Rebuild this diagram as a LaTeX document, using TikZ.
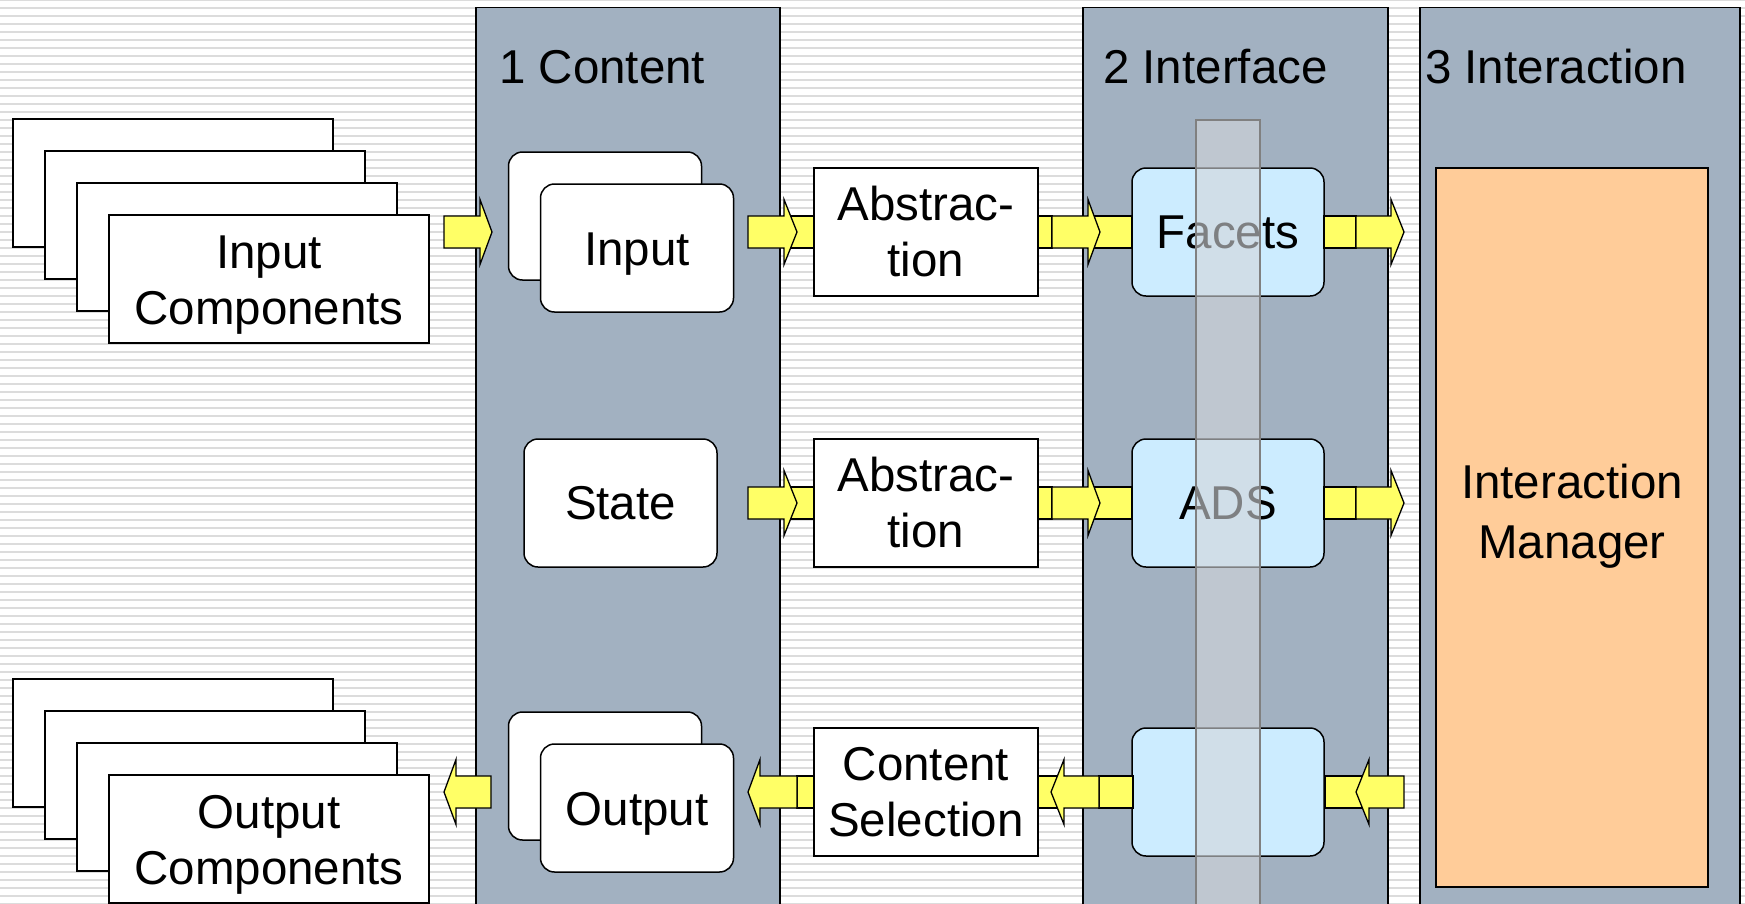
\documentclass[tikz,border=0pt]{standalone}
\usepackage{fontspec}
\setmainfont{Liberation Sans}
\definecolor{colfill}{HTML}{A2B1C1}
\definecolor{imfill}{HTML}{FFCC99}
\definecolor{bluefill}{HTML}{CCECFF}
\definecolor{yel}{HTML}{FFFF66}
\definecolor{stripecol}{HTML}{DCDCDC}
\definecolor{barfill}{HTML}{D3D6DA}
\definecolor{bardraw}{HTML}{808080}
\newcommand{\blockarr}[4]{% tail x, head-base x, tip x, centre y
  \draw[arr] (#1,#4-16) -- (#2,#4-16) -- (#2,#4-32.5) -- (#3,#4) -- (#2,#4+32.5) -- (#2,#4+16) -- (#1,#4+16) -- cycle;}
\newcommand{\yelrect}[3]{% x1, x2, centre y
  \draw[arr] (#1,#3-16) rectangle (#2,#3+16);}
\begin{document}
\begin{tikzpicture}[x=1pt,y=-1pt,
  lbl/.style={font=\fontsize{47.5}{56}\selectfont},
  box/.style={draw, fill=white, line width=1.5pt, align=center, inner sep=0pt, lbl},
  rbox/.style={box, rounded corners=14pt},
  txt/.style={lbl, align=center, inner sep=0pt},
  column/.style={draw, fill=colfill, line width=1.5pt},
  arr/.style={draw, fill=yel, line width=1.3pt, line join=miter},
  bar/.style={fill=barfill, fill opacity=0.6, draw=bardraw, line width=2pt}]
\useasboundingbox (0,0) rectangle (1745,903);
\clip (0,0) rectangle (1745,903);
% striped background
\fill[white] (0,0) rectangle (1745,903);
\foreach \k in {0,...,113} {\fill[stripecol] (0,{\k*8-0.7}) rectangle (1745,{\k*8+0.7});}
% columns
\draw[column] (476,7.5) rectangle (780,920);
\draw[column] (1083,7.5) rectangle (1388,920);
\draw[column] (1420,7.5) rectangle (1740,920);
\node[lbl, anchor=base west, inner sep=0pt] (t1) at (499,83) {1 Content};
\node[lbl, anchor=base west, inner sep=0pt] (t2) at (1103,83) {2 Interface};
\node[lbl, anchor=base west, inner sep=0pt] (t3) at (1425,83) {3 Interaction};
% input components stack
\node[box, minimum width=320pt, minimum height=128pt] (ic1) at (173,183) {};
\node[box, minimum width=320pt, minimum height=128pt] (ic2) at (205,215) {};
\node[box, minimum width=320pt, minimum height=128pt] (ic3) at (237,247) {};
\node[box, minimum width=320pt, minimum height=128pt] (ic4) at (269,279) {};
\node[txt] (ic4t) at ([yshift=-6pt]ic4.center) {Input\\Components};
% output components stack
\node[box, minimum width=320pt, minimum height=128pt] (oc1) at (173,743) {};
\node[box, minimum width=320pt, minimum height=128pt] (oc2) at (205,775) {};
\node[box, minimum width=320pt, minimum height=128pt] (oc3) at (237,807) {};
\node[box, minimum width=320pt, minimum height=128pt] (oc4) at (269,839) {};
\node[txt] (oc4t) at ([yshift=-6pt]oc4.center) {Output\\Components};
% content column
\node[rbox, minimum width=193pt, minimum height=128pt] (in1) at (605,216) {};
\node[rbox, minimum width=193pt, minimum height=128pt] (in2) at (637,248) {};
\node[txt] (in2t) at ([yshift=-6pt]in2.center) {Input};
\node[rbox, minimum width=193pt, minimum height=128pt] (state) at (620.5,503) {State};
\node[rbox, minimum width=193pt, minimum height=128pt] (out1) at (605,776) {};
\node[rbox, minimum width=193pt, minimum height=128pt] (out2) at (637,808) {};
\node[txt] (out2t) at ([yshift=-6pt]out2.center) {Output};
% middle boxes
\node[box, minimum width=224pt, minimum height=128pt] (abs1) at (926,232) {Abstrac-\\tion};
\node[box, minimum width=224pt, minimum height=128pt] (abs2) at (926,503) {Abstrac-\\tion};
\node[box, minimum width=224pt, minimum height=128pt] (cs) at (926,792) {Content\\Selection};
% interface boxes
\node[rbox, fill=bluefill, minimum width=192pt, minimum height=128pt] (facets) at (1228,232) {Facets};
\node[rbox, fill=bluefill, minimum width=192pt, minimum height=128pt] (ads) at (1228,503) {ADS};
\node[rbox, fill=bluefill, minimum width=192pt, minimum height=128pt] (blank) at (1228,792) {};
% interaction manager
\node[box, fill=imfill, minimum width=272pt, minimum height=719pt] (im) at (1572,527.5) {};
\node[txt] (imtext) at (1572,516.5) {Interaction\\[4pt]Manager};
% top row arrows
\blockarr{444}{480}{492}{232}
\yelrect{784}{814}{232}
\blockarr{748}{784}{797}{232}
\yelrect{1038}{1052}{232}
\yelrect{1088}{1132}{232}
\blockarr{1052}{1088}{1100}{232}
\yelrect{1324}{1356}{232}
\blockarr{1356}{1391}{1404}{232}
% middle row arrows
\yelrect{784}{814}{503}
\blockarr{748}{784}{797}{503}
\yelrect{1038}{1052}{503}
\yelrect{1088}{1132}{503}
\blockarr{1052}{1088}{1100}{503}
\yelrect{1324}{1356}{503}
\blockarr{1356}{1391}{1404}{503}
% bottom row arrows (pointing left)
\blockarr{491}{456}{444}{792}
\yelrect{797}{814}{792}
\blockarr{797}{760}{748}{792}
\yelrect{1038}{1064}{792}
\yelrect{1099}{1133}{792}
\blockarr{1099}{1064}{1051}{792}
\yelrect{1325}{1369}{792}
\blockarr{1404}{1369}{1356}{792}
% translucent bar
\draw[bar] (1196,120) rectangle (1260,920);
\end{tikzpicture}
\end{document}
